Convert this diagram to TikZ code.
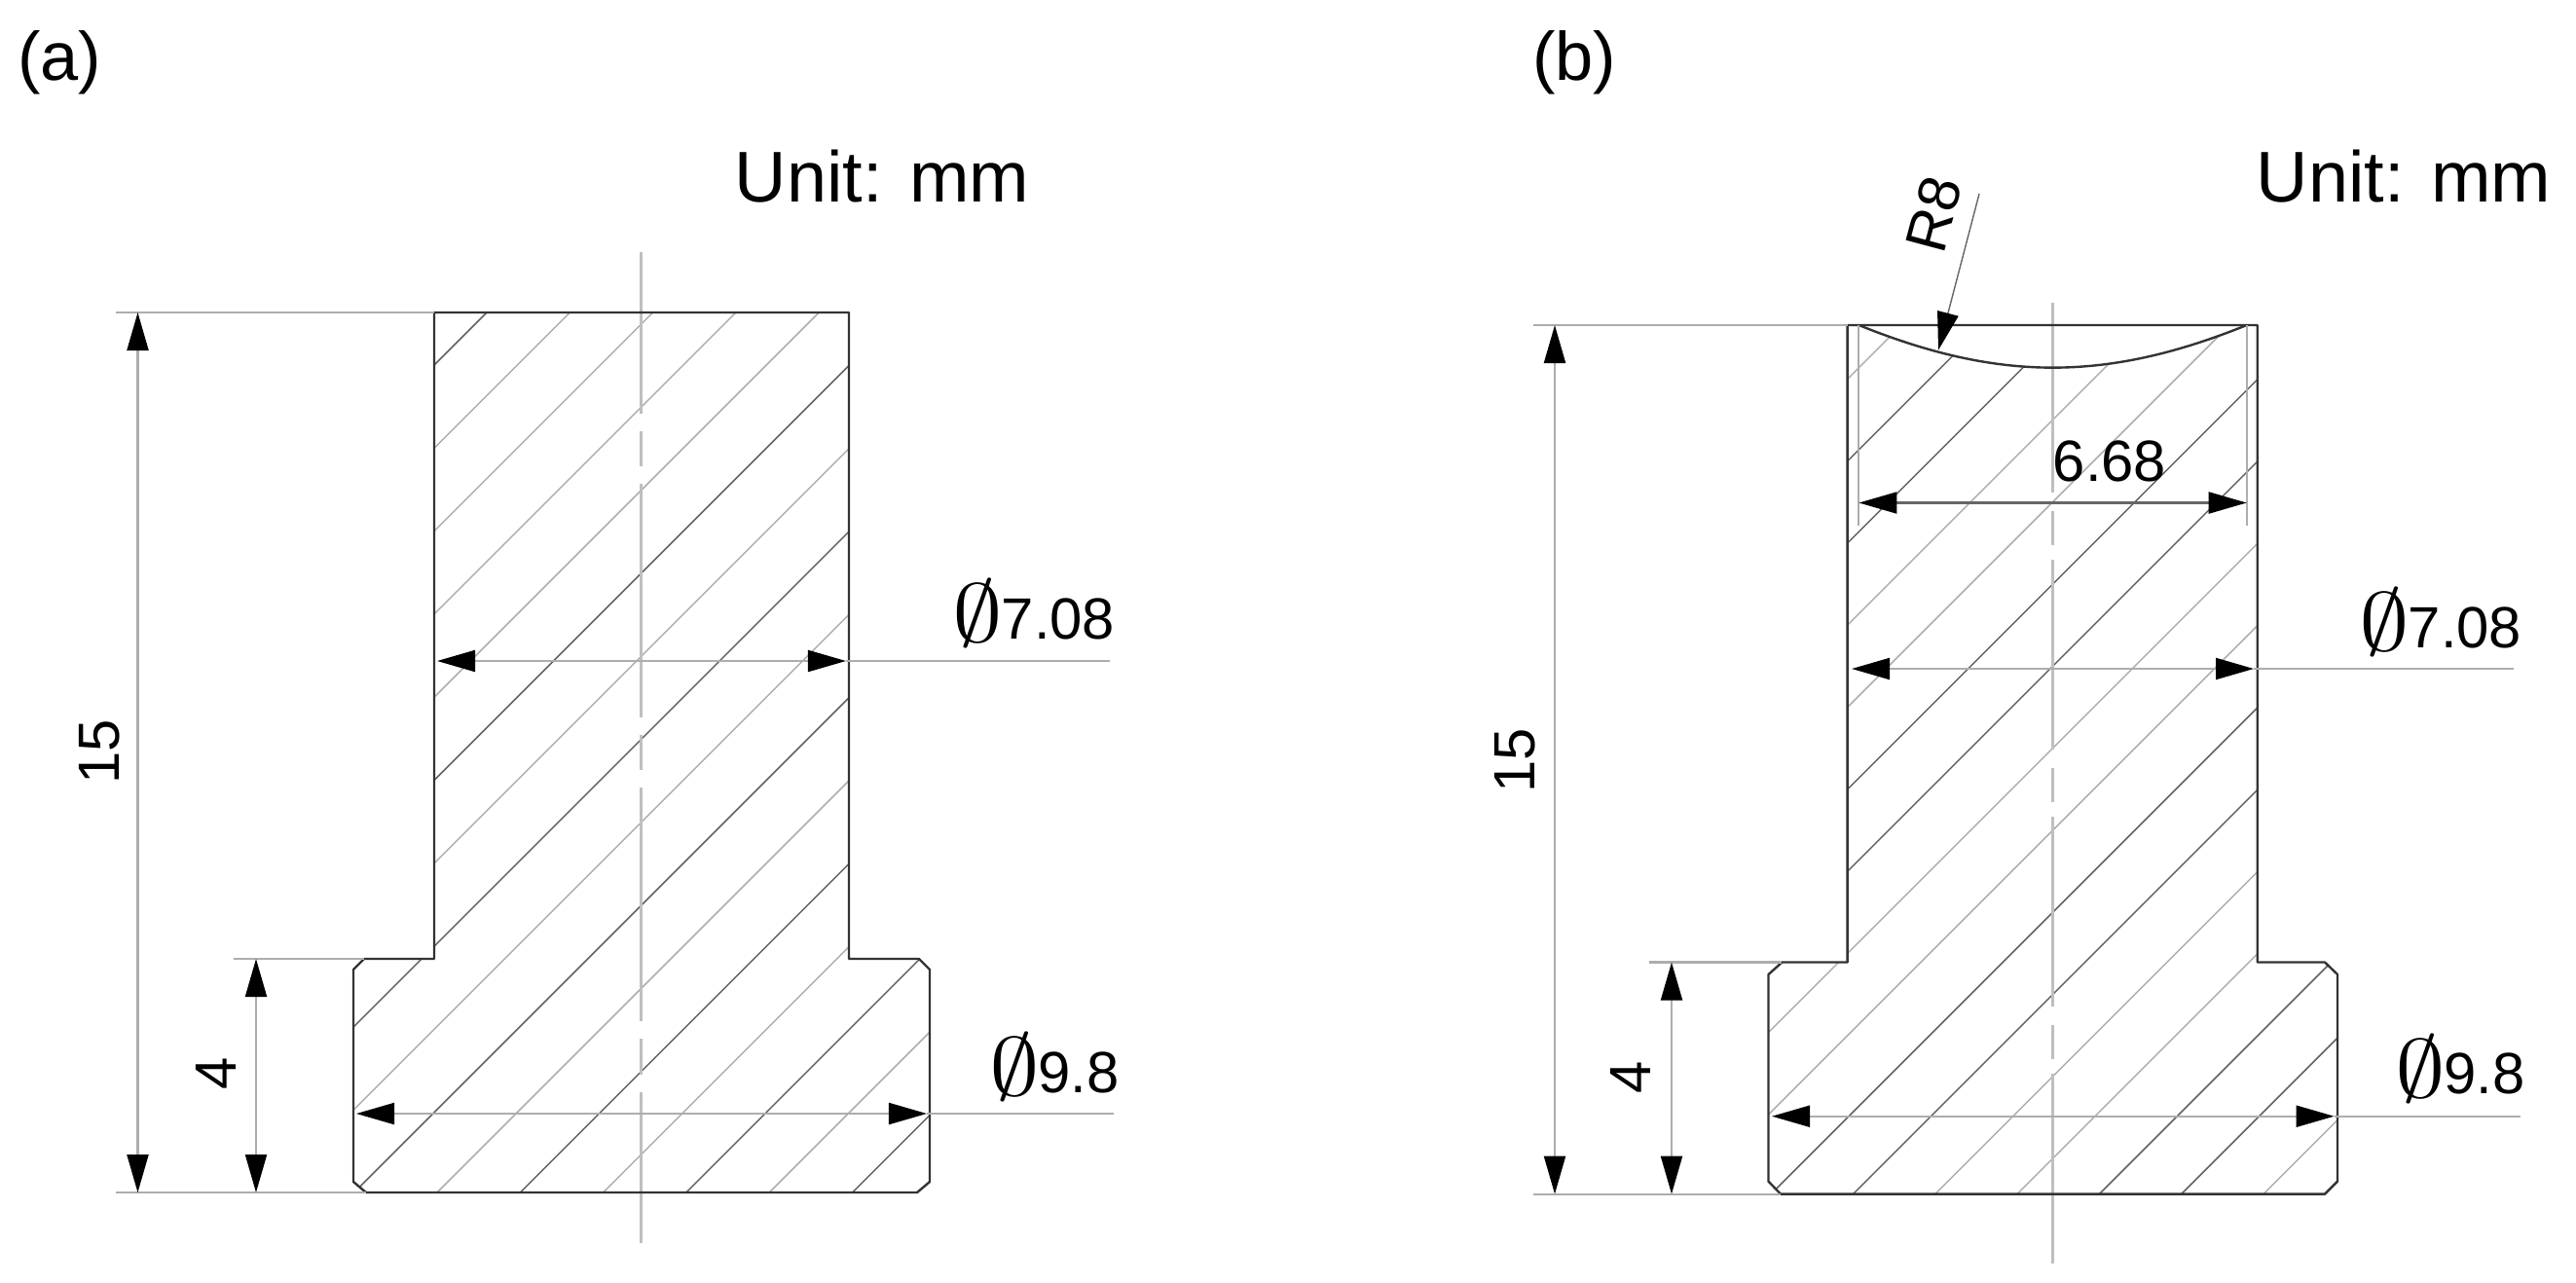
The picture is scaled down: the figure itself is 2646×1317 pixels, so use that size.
\documentclass[tikz,border=0pt]{standalone}
\usepackage{fontspec}
\setmainfont{Liberation Sans}
\usepackage{tikz}
\usetikzlibrary{arrows.meta}
\newcommand{\dia}{\raisebox{-.1ex}{\scalebox{1.7}[1.4]{$\emptyset$}}\hspace{-.03em}}

\begin{document}
\begin{tikzpicture}[x=0.01cm,y=-0.01cm,
    outline/.style={draw=black!80,line width=.68pt,line join=round},
    hatchdark/.style={draw=black!62,line width=.42pt},
    hatchlight/.style={draw=black!32,line width=.42pt},
    dimline/.style={draw=black!32,line width=.6pt,{Triangle[length=.39cm,width=.22cm,color=black]}-{Triangle[length=.39cm,width=.22cm,color=black]}},
    extline/.style={draw=black!32,line width=.6pt},
    axisa/.style={draw=black!25,line width=.85pt,dash pattern=on 2.4cm off .18cm on .36cm off .18cm,dash phase=.74cm},
    axisb/.style={draw=black!25,line width=.85pt,dash pattern=on 1.95cm off .19cm on .35cm off .15cm},
    big/.style={inner sep=0pt,font=\fontsize{21}{24}\selectfont},
    dimtext/.style={inner sep=0pt,font=\fontsize{17}{19}\selectfont}]
  \useasboundingbox (0,0) rectangle (2646,1317);

  % left part
  \coordinate (A1) at (446,321);
  \coordinate (A2) at (872,321);
  \coordinate (A3) at (872,985);
  \coordinate (A4) at (944,985);
  \coordinate (A5) at (955,996);
  \coordinate (A6) at (955,1214);
  \coordinate (A7) at (942,1225);
  \coordinate (A8) at (376,1225);
  \coordinate (A9) at (363,1214);
  \coordinate (A10) at (363,996);
  \coordinate (A11) at (374,985);
  \coordinate (A12) at (446,985);
  \begin{scope}
    \clip (A1) -- (A2) -- (A3) -- (A4) -- (A5) -- (A6) -- (A7) -- (A8) -- (A9) -- (A10) -- (A11) -- (A12) -- cycle;
    \foreach \k [evaluate={\c=1674-85.3*\k;}] in {10,5,3,1,-1,-3,-5}
      \draw[hatchdark] (300,\c-300) -- (1000,\c-1000);
    \foreach \k [evaluate={\c=1674-85.3*\k;}] in {9,8,7,6,4,2,0,-2,-4}
      \draw[hatchlight] (300,\c-300) -- (1000,\c-1000);
  \end{scope}
  \draw[axisa] (658,259) -- (658,1277);
  \draw[outline] (A1) -- (A2) -- (A3) -- (A4) -- (A5) -- (A6) -- (A7) -- (A8) -- (A9) -- (A10) -- (A11) -- (A12) -- cycle;

  \coordinate (Atop) at (119,321);
  \coordinate (Abot) at (119,1225);
  \coordinate (Astep) at (240,985);
  \draw[extline] (Atop) -- (A1);
  \draw[extline] (Abot) -- (A8);
  \draw[extline] (Astep) -- (A11);
  \draw[dimline] (141.5,321) -- (141.5,1225);
  \draw[dimline] (263,985) -- (263,1225);
  \draw[dimline] (449,679) -- (869,679);
  \draw[extline] (869,679) -- (1140,679);
  \draw[dimline] (366,1144) -- (952,1144);
  \draw[extline] (952,1144) -- (1144,1144);

  \node[big,font=\fontsize{20}{24}\selectfont] (labela) at (61,64) {(a)};
  \node[big] (unita) at (906,181) {Unit: mm};
  \node[dimtext,rotate=90] (lena) at (102,772) {15};
  \node[dimtext,rotate=90] (heada) at (222,1103) {4};
  \node[dimtext] (shanka) at (1062,630) {\dia7.08};
  \node[dimtext] (basea) at (1083,1096) {\dia9.8};

  % right part
  \coordinate (B1) at (1897.6,334);
  \coordinate (B2) at (2318.7,334);
  \coordinate (B3) at (2318.7,988.5);
  \coordinate (B4) at (2388,988.5);
  \coordinate (B5) at (2401,1001);
  \coordinate (B6) at (2401,1213.6);
  \coordinate (B7) at (2388,1226.6);
  \coordinate (B8) at (1829,1226.6);
  \coordinate (B9) at (1816.5,1213.6);
  \coordinate (B10) at (1816.5,1001);
  \coordinate (B11) at (1830.4,988.5);
  \coordinate (B12) at (1897.6,988.5);
  \coordinate (C1) at (1909.4,334);
  \coordinate (C2) at (2307.7,334);
  \begin{scope}
    \clip (B1) -- (C1) to[bend right=22] (C2) -- (B2) -- (B3) -- (B4) -- (B5) -- (B6) -- (B7) -- (B8) -- (B9) -- (B10) -- (B11) -- (B12) -- cycle;
    \foreach \k [evaluate={\c=3130-84.3*\k;}] in {9,8,5,4,1,0,-3,-4}
      \draw[hatchdark] (1750,\c-1750) -- (2450,\c-2450);
    \foreach \k [evaluate={\c=3130-84.3*\k;}] in {10,7,6,3,2,-1,-2,-5}
      \draw[hatchlight] (1750,\c-1750) -- (2450,\c-2450);
  \end{scope}
  \draw[axisb] (2108,311) -- (2108,1298);
  \draw[outline] (B1) -- (B2) -- (B3) -- (B4) -- (B5) -- (B6) -- (B7) -- (B8) -- (B9) -- (B10) -- (B11) -- (B12) -- cycle;
  \draw[outline] (C1) to[bend right=22] (C2);

  \coordinate (Btop) at (1575,334);
  \coordinate (Bbot) at (1575,1226.6);
  \coordinate (Bstep) at (1694,988.5);
  \coordinate (C3) at (1909.4,540);
  \coordinate (C4) at (2307.7,540);
  \draw[extline] (Btop) -- (B1);
  \draw[extline] (Bbot) -- (B8);
  \draw[extline] (Bstep) -- (B11);
  \draw[extline] (C1) -- (C3);
  \draw[extline] (C2) -- (C4);
  \draw[dimline] (1597,334) -- (1597,1226.6);
  \draw[dimline] (1717,988.5) -- (1717,1226.6);
  \draw[dimline,draw=black!60] (1909.4,516.5) -- (2307.7,516.5);
  \draw[dimline] (1902,687) -- (2315,687);
  \draw[extline] (2315,687) -- (2582,687);
  \draw[dimline] (1820,1146.7) -- (2397.6,1146.7);
  \draw[extline] (2397.6,1146.7) -- (2589,1146.7);
  \coordinate (Rfree) at (2033,199);
  \coordinate (Rtip) at (1991,359.6);
  \draw[-{Triangle[length=.39cm,width=.22cm,color=black]},draw=black!60,line width=.4pt] (Rfree) -- (Rtip);

  \node[big,font=\fontsize{20}{24}\selectfont] (labelb) at (1617,64) {(b)};
  \node[big] (unitb) at (2469,181) {Unit: mm};
  \node[dimtext,rotate=90] (lenb) at (1556,781) {15};
  \node[dimtext,rotate=90] (headb) at (1675,1106.5) {4};
  \node[dimtext] (flat) at (2167,474) {6.68};
  \node[dimtext] (shankb) at (2507,639) {\dia7.08};
  \node[dimtext] (baseb) at (2527,1097.5) {\dia9.8};
  \node[dimtext,rotate=75] (radius) at (1986,220) {R8};
\end{tikzpicture}
\end{document}
